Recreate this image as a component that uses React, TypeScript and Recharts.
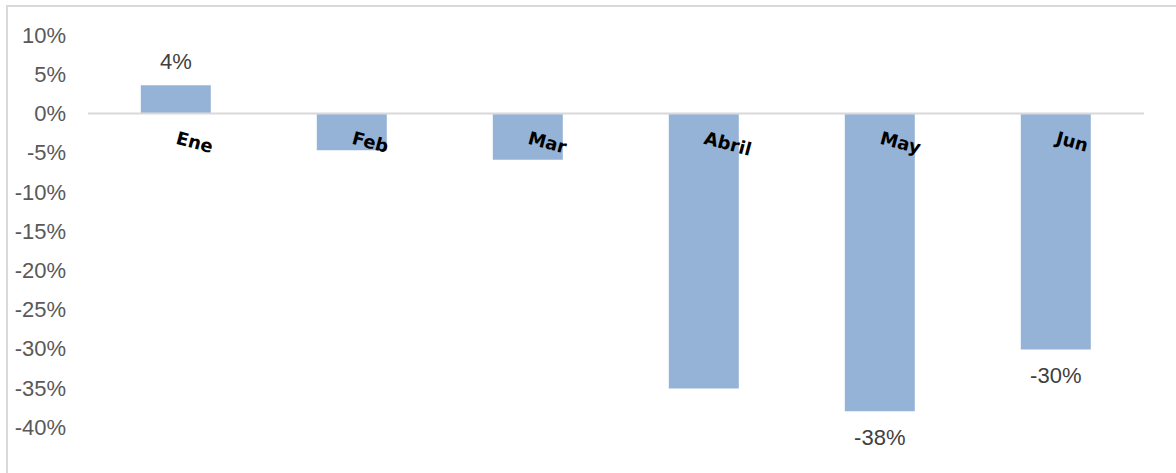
import React from 'react'
import {
  Bar,
  ComposedChart,
  LabelList,
  ReferenceDot,
  ReferenceLine,
  XAxis,
  YAxis,
} from 'recharts'

const months = ['Ene', 'Feb', 'Mar', 'Abril', 'May', 'Jun']
const changes = [3.6, -4.7, -5.9, -35.1, -38.0, -30.1]
const valueLabels = ['4%', '', '', '', '-38%', '-30%']
const yTicks = [10, 5, 0, -5, -10, -15, -20, -25, -30, -35, -40]

const data = months.map((name, i) => ({
  name,
  change: changes[i],
  label: valueLabels[i],
}))

const BAR_COLOR = '#95B3D7'
const GRID_COLOR = '#D9D9D9'
const FONT = '"Liberation Sans", Arial, sans-serif'

function ValueLabel(props: any) {
  const { x, y, width, height, index } = props
  const text = valueLabels[index]
  if (!text) return null
  const top = Math.min(y, y + height)
  const bottom = Math.max(y, y + height)
  const cx = x + width / 2
  const ty = changes[index] >= 0 ? top - 16 : bottom + 34
  return (
    <text
      x={cx}
      y={ty}
      textAnchor="middle"
      fill="#404040"
      fontSize={22}
      fontFamily={FONT}
    >
      {text}
    </text>
  )
}

function MonthLabel(props: any) {
  const { cx, cy, name } = props
  const tx = cx - 1
  const ty = cy + 30
  return (
    <text
      x={tx}
      y={ty}
      transform={`rotate(15, ${tx}, ${ty})`}
      fill="#000000"
      fontSize={18}
      fontWeight="bold"
      fontFamily='"DejaVu Sans", Verdana, sans-serif'
    >
      {name}
    </text>
  )
}

export default function App() {
  return (
    <div
      style={{
        position: 'absolute',
        left: 0,
        top: 0,
        width: 1176,
        height: 473,
        background: '#fff',
        overflow: 'hidden',
      }}
    >
      <div
        style={{
          position: 'absolute',
          left: 6,
          top: 5,
          right: 0,
          bottom: 0,
          borderTop: `2px solid ${GRID_COLOR}`,
          borderLeft: `2px solid ${GRID_COLOR}`,
        }}
      />
      <div style={{ position: 'absolute', left: 0, top: 0 }}>
        <ComposedChart
          width={1176}
          height={473}
          data={data}
          margin={{ top: 35, right: 32, bottom: 46, left: 0 }}
          barCategoryGap="30%"
        >
          <XAxis dataKey="name" hide />
          <YAxis
            width={88}
            domain={[-40, 10]}
            ticks={yTicks}
            interval={0}
            axisLine={false}
            tickLine={false}
            tickSize={0}
            tickMargin={22}
            tickFormatter={(v: number) => `${v}%`}
            tick={{ fill: '#595959', fontSize: 22, fontFamily: FONT }}
          />
          <Bar dataKey="change" fill={BAR_COLOR} isAnimationActive={false}>
            <LabelList dataKey="label" content={<ValueLabel />} />
          </Bar>
          <ReferenceLine y={0} stroke={GRID_COLOR} strokeWidth={2} />
          {months.map((m) => (
            <ReferenceDot
              key={m}
              x={m}
              y={0}
              r={0}
              ifOverflow="visible"
              shape={(p: any) => <MonthLabel {...p} name={m} />}
            />
          ))}
        </ComposedChart>
      </div>
    </div>
  )
}
